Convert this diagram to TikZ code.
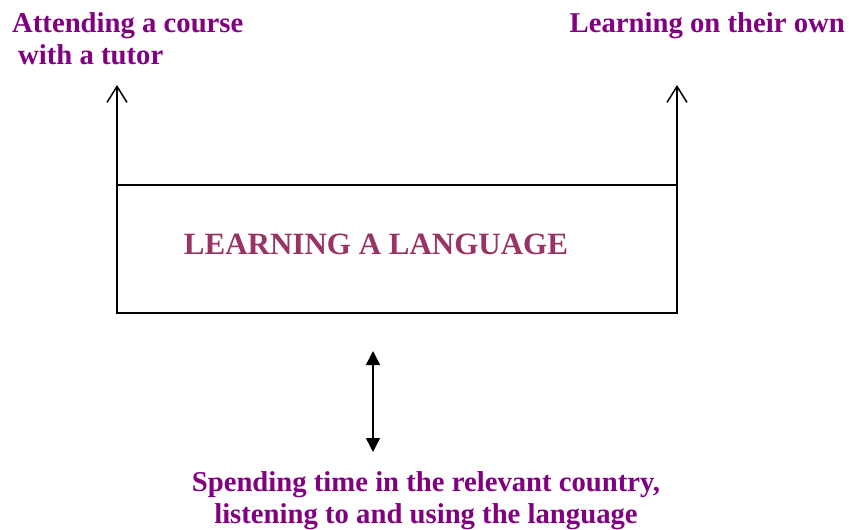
\documentclass[tikz,border=0pt]{standalone}
\usepackage{fontspec}
\setmainfont{Liberation Serif}
\usetikzlibrary{arrows.meta}
\definecolor{labelpurple}{HTML}{800080}
\definecolor{titlewine}{HTML}{993366}

\begin{document}
\begin{tikzpicture}[x=1pt,y=-1pt,
  label/.style={text=labelpurple,font=\bfseries\fontsize{28.7}{31.5}\selectfont,inner sep=0pt},
  up/.style={line width=1.5pt,-{Straight Barb[length=16pt,width=20pt,line width=1.5pt]}},
  both/.style={line width=1.5pt,{Triangle[length=14pt,width=14pt]}-{Triangle[length=14pt,width=14pt]}}]
\useasboundingbox (0,0) rectangle (849,530);

  \node[draw,line width=1.5pt,minimum width=560pt,minimum height=128pt,inner sep=0pt,outer sep=0pt] (lang) at (397,249) {};
  \node[anchor=base,text=titlewine,font=\bfseries\fontsize{31}{36}\selectfont,inner sep=0pt] (title) at (376,254) {LEARNING A LANGUAGE};

 \node[label,anchor=base west,align=left] (tutor) at (12,64) {Attending a course\\\hspace*{6pt}with a tutor};
 \node[label,anchor=base east] (own) at (845,32) {Learning on their own};
 \node[label,anchor=base,align=center] (abroad) at (426,523) {Spending time in the relevant country,\\listening to and using the language};

 \coordinate (tutortip) at (117,85);
 \coordinate (owntip) at (677,85);
 \coordinate (abroadtop) at (373,351);
 \coordinate (abroadbot) at (373,452);

 \draw[up] (lang.south west) -- (tutortip);
 \draw[up] (lang.south east) -- (owntip);
 \draw[both] (abroadtop) -- (abroadbot);

\end{tikzpicture}
\end{document}
